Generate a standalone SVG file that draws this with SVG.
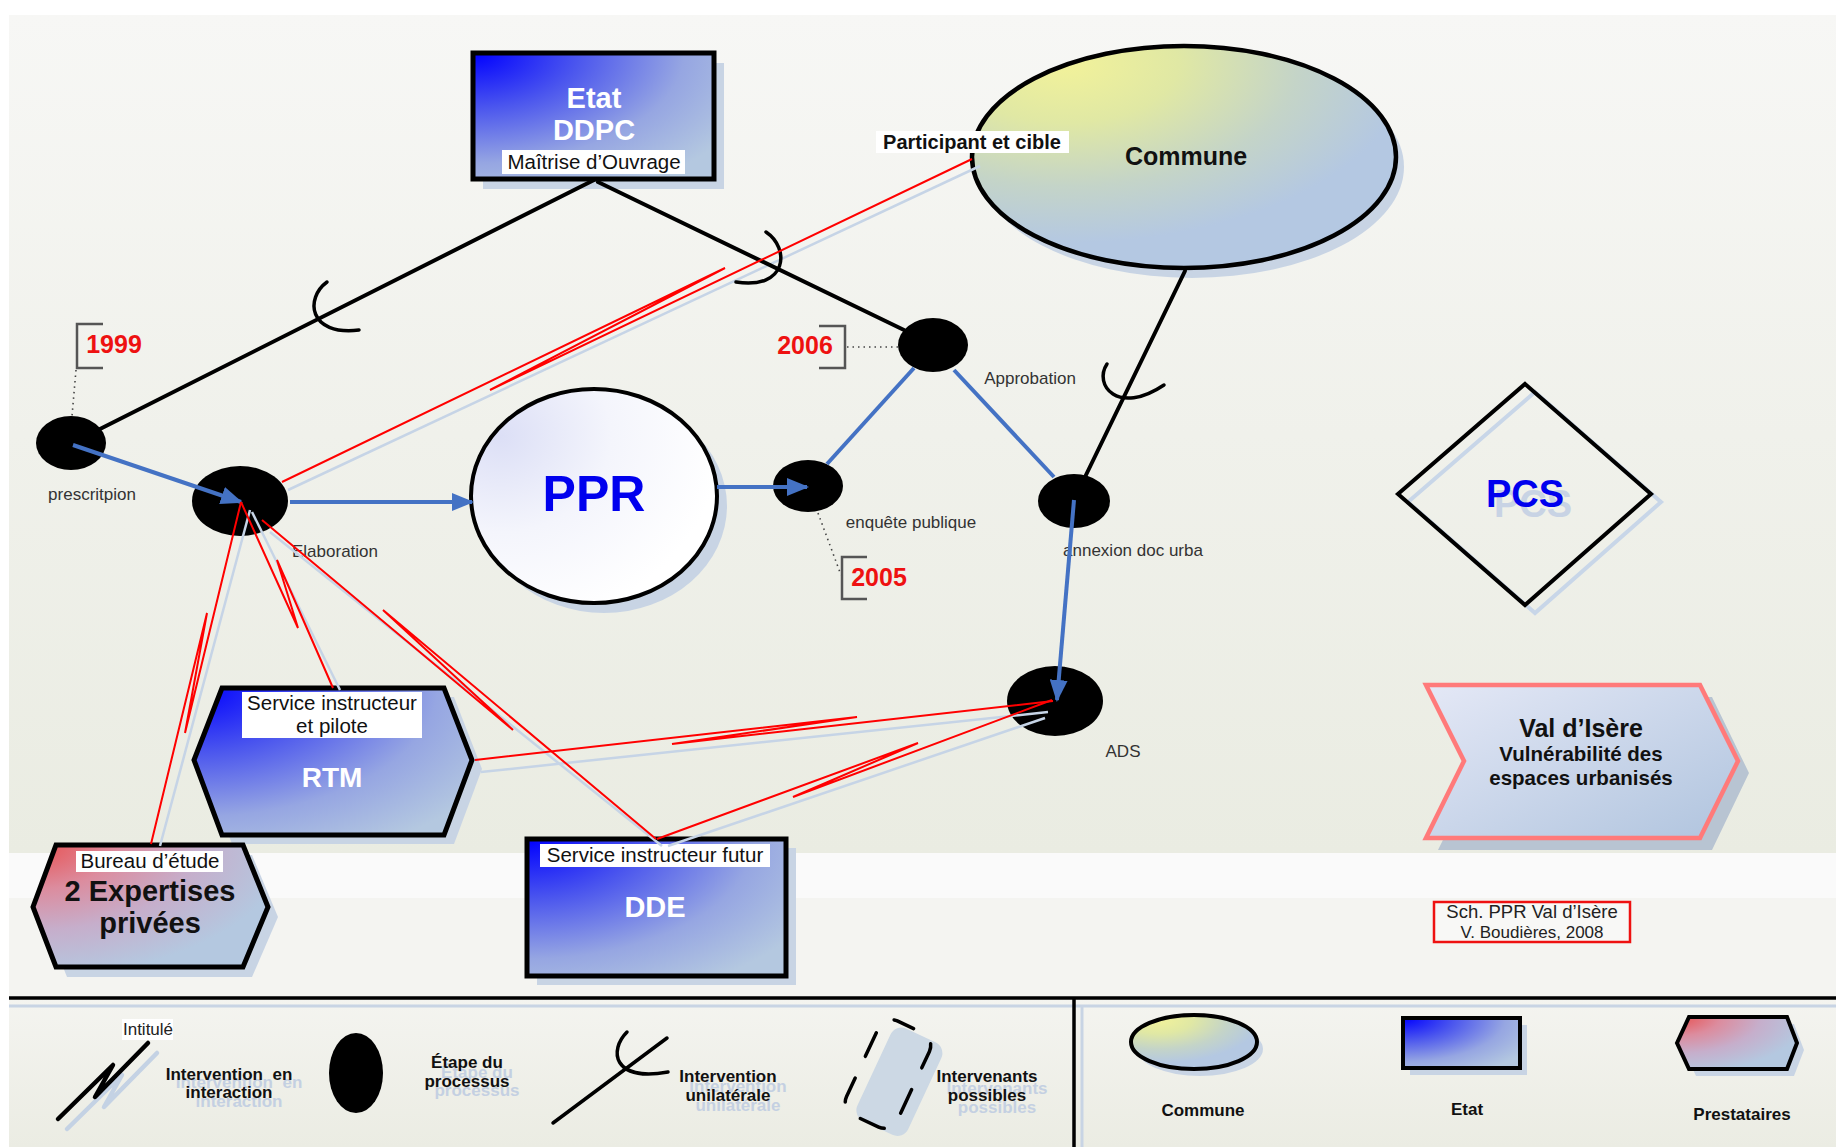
<svg xmlns="http://www.w3.org/2000/svg" width="1836" height="1147" viewBox="0 0 1836 1147">
<defs>
<style>
text{font-family:'Liberation Sans',Arial,sans-serif}
.b{font-weight:bold}
.lbl{font-size:17px;fill:#333}
.yr{font-size:25px;font-weight:bold;fill:#ee1111}
.blk{stroke:#000;stroke-width:4;fill:none;stroke-linecap:round}
.arc{stroke:#000;stroke-width:3.5;fill:none;stroke-linecap:round}
.blue{stroke:#4472c4;stroke-width:4;fill:none}
.red{stroke:#ff0000;stroke-width:2;fill:none;stroke-linejoin:miter}
.sh{stroke:#c6d4e6;stroke-width:2.5;fill:none}
.shf{fill:#c8d4e4}
.node{fill:#000}
.brk{stroke:#555;stroke-width:2.5;fill:none}
.dot{stroke:#444;stroke-width:1.6;fill:none;stroke-dasharray:1.5 4}
.wb{fill:#fff}
.out{stroke:#000;stroke-width:5;stroke-linejoin:miter}
.lg{font-size:17px;font-weight:bold;fill:#111}
.lgs{font-size:17px;font-weight:bold;fill:#c4d0e2}
</style>
<linearGradient id="gBg" x1="0" y1="0" x2="0" y2="1">
<stop offset="0" stop-color="#f7f7f5"/>
<stop offset="0.5" stop-color="#f0f1eb"/>
<stop offset="1" stop-color="#eaece2"/>
</linearGradient>
<linearGradient id="gLeg" x1="0" y1="0" x2="0" y2="1">
<stop offset="0" stop-color="#f4f4f0"/>
<stop offset="1" stop-color="#ebece3"/>
</linearGradient>
<radialGradient id="gBlue" cx="0" cy="0" r="1.25">
<stop offset="0" stop-color="#0000ff"/>
<stop offset="0.35" stop-color="#4b56ee"/>
<stop offset="0.7" stop-color="#96a6e2"/>
<stop offset="1" stop-color="#b4c8e0"/>
</radialGradient>
<radialGradient id="gCom" cx="0.22" cy="0.08" r="0.95">
<stop offset="0" stop-color="#f2f29a"/>
<stop offset="0.28" stop-color="#e0e8a4"/>
<stop offset="0.58" stop-color="#c4d4c8"/>
<stop offset="0.85" stop-color="#b4c8e2"/>
</radialGradient>
<radialGradient id="gRed" cx="0" cy="0" r="1.2">
<stop offset="0" stop-color="#e85050"/>
<stop offset="0.3" stop-color="#dc8c9e"/>
<stop offset="0.58" stop-color="#c6aecb"/>
<stop offset="0.9" stop-color="#b4c8e0"/>
</radialGradient>
<radialGradient id="gPPR" cx="0.12" cy="0.22" r="0.9">
<stop offset="0" stop-color="#dcdff6"/>
<stop offset="0.5" stop-color="#f4f5fc"/>
<stop offset="1" stop-color="#ffffff"/>
</radialGradient>
<linearGradient id="gChev" x1="0" y1="0" x2="1" y2="1">
<stop offset="0" stop-color="#e4e8f6"/>
<stop offset="1" stop-color="#b0c4de"/>
</linearGradient>
<marker id="arr" markerUnits="userSpaceOnUse" markerWidth="22" markerHeight="18" refX="20" refY="9" orient="auto">
<path d="M0,0 L22,9 L0,18 z" fill="#4472c4"/>
</marker>
</defs>

<!-- background -->
<rect x="0" y="0" width="1836" height="1147" fill="#ffffff"/>
<rect x="9" y="15" width="1827" height="838" fill="url(#gBg)"/>
<rect x="9" y="853" width="1827" height="45" fill="#fafafa"/>
<rect x="9" y="898" width="1827" height="100" fill="#f4f4f1"/>
<rect x="9" y="998" width="1827" height="149" fill="url(#gLeg)"/>

<!-- Etat DDPC -->
<g id="etat">
<rect x="483" y="63" width="241" height="126" class="shf"/>
<rect x="473" y="53" width="241" height="126" fill="url(#gBlue)" class="out"/>
<text x="594" y="108" text-anchor="middle" class="b" font-size="29" fill="#fff">Etat</text>
<text x="594" y="140" text-anchor="middle" class="b" font-size="29" fill="#fff">DDPC</text>
<rect x="502" y="150" width="183" height="24" class="wb"/>
<text x="594" y="169" text-anchor="middle" font-size="20.5" fill="#111">Maîtrise d’Ouvrage</text>
</g>

<!-- Commune -->
<g id="commune">
<ellipse cx="1192" cy="167" rx="212" ry="111" class="shf"/>
<ellipse cx="1184" cy="157" rx="212" ry="111" fill="url(#gCom)" stroke="#000" stroke-width="4.5"/>
<text x="1186" y="165" text-anchor="middle" class="b" font-size="25" fill="#111">Commune</text>
</g>

<!-- PPR -->
<g id="ppr">
<ellipse cx="604" cy="506" rx="123" ry="107" class="shf"/>
<ellipse cx="594" cy="496" rx="123" ry="107" fill="url(#gPPR)" stroke="#000" stroke-width="4"/>
<text x="594" y="511" text-anchor="middle" class="b" font-size="50" fill="#0000ee">PPR</text>
</g>

<!-- PCS -->
<g id="pcs">
<polygon points="1535,392 1661,502 1535,613 1408,502" fill="none" stroke="#c8d6e8" stroke-width="4"/>
<polygon points="1525,384 1651,494 1525,605 1398,494" fill="none" stroke="#000" stroke-width="4"/>
<text x="1533" y="517" text-anchor="middle" class="b" font-size="38" fill="#c8d3e4">PCS</text>
<text x="1525" y="507" text-anchor="middle" class="b" font-size="38" fill="#0000ee">PCS</text>
</g>

<!-- Val d'Isère -->
<g id="valdisere">
<polygon points="1438,697 1712,697 1749,773 1712,850 1438,850 1476,773" fill="#b8c4d2"/>
<polygon points="1426,685 1700,685 1738,761 1700,838 1426,838 1464,761" fill="url(#gChev)" stroke="#ff7a7a" stroke-width="4.5"/>
<text x="1581" y="737" text-anchor="middle" class="b" font-size="25" fill="#111">Val d’Isère</text>
<text x="1581" y="761" text-anchor="middle" class="b" font-size="20.5" fill="#111">Vulnérabilité des</text>
<text x="1581" y="785" text-anchor="middle" class="b" font-size="20.5" fill="#111">espaces urbanisés</text>
</g>

<!-- credit box -->
<g id="credit">
<rect x="1434" y="902" width="196" height="40" fill="#f8f8f6" stroke="#ee1111" stroke-width="2.5"/>
<text x="1532" y="918" text-anchor="middle" font-size="18.5" fill="#222">Sch. PPR Val d’Isère</text>
<text x="1532" y="938" text-anchor="middle" font-size="17" fill="#222">V. Boudières, 2008</text>
</g>

<!-- RTM -->
<g id="rtm">
<polygon points="232,697 454,697 482,769 454,844 232,844 204,769" class="shf"/>
<polygon points="222,688 444,688 472,760 444,835 222,835 194,760" fill="url(#gBlue)" class="out"/>
<rect x="242" y="692" width="180" height="46" class="wb"/>
<text x="332" y="710" text-anchor="middle" font-size="20.5" fill="#111">Service instructeur</text>
<text x="332" y="733" text-anchor="middle" font-size="20.5" fill="#111">et pilote</text>
<text x="332" y="787" text-anchor="middle" class="b" font-size="28" fill="#fff">RTM</text>
</g>

<!-- Bureau d'étude -->
<g id="bureau">
<polygon points="67,855 252,855 278,917 252,977 67,977 43,917" class="shf"/>
<polygon points="56,845 243,845 268,907 243,967 56,967 33,907" fill="url(#gRed)" class="out"/>
<rect x="76" y="851" width="147" height="21" class="wb"/>
<text x="150" y="868" text-anchor="middle" font-size="20.5" fill="#111">Bureau d’étude</text>
<text x="150" y="901" text-anchor="middle" class="b" font-size="29" fill="#111">2 Expertises</text>
<text x="150" y="933" text-anchor="middle" class="b" font-size="29" fill="#111">privées</text>
</g>

<!-- DDE -->
<g id="dde">
<rect x="537" y="848" width="259" height="137" class="shf"/>
<rect x="527" y="839" width="259" height="137" fill="url(#gBlue)" class="out"/>
<rect x="540" y="844" width="230" height="23" class="wb"/>
<text x="655" y="862" text-anchor="middle" font-size="20.5" fill="#111">Service instructeur futur</text>
<text x="655" y="917" text-anchor="middle" class="b" font-size="29" fill="#fff">DDE</text>
</g>

<!-- process nodes -->
<g id="n-prescription">
<ellipse cx="71" cy="443" rx="35" ry="27" class="node"/>
<text x="92" y="500" text-anchor="middle" class="lbl">prescritpion</text>
</g>
<g id="n-elaboration">
<ellipse cx="240" cy="501" rx="48" ry="35" class="node"/>
<text x="335" y="557" text-anchor="middle" class="lbl">Elaboration</text>
</g>
<g id="n-enquete">
<ellipse cx="808" cy="486" rx="35" ry="26" class="node"/>
<text x="911" y="528" text-anchor="middle" class="lbl">enquête publique</text>
</g>
<g id="n-approbation">
<ellipse cx="933" cy="345" rx="35" ry="27" class="node"/>
<text x="1030" y="384" text-anchor="middle" class="lbl">Approbation</text>
</g>
<g id="n-annexion">
<ellipse cx="1074" cy="501" rx="36" ry="27" class="node"/>
<text x="1133" y="556" text-anchor="middle" class="lbl">annexion doc urba</text>
</g>
<g id="n-ads">
<ellipse cx="1055" cy="701" rx="48" ry="35" class="node"/>
<text x="1123" y="757" text-anchor="middle" class="lbl">ADS</text>
</g>

<!-- year labels -->
<g id="y1999">
<path d="M103,324 L77,324 L77,368 L103,368" class="brk"/>
<line x1="76" y1="370" x2="72" y2="416" class="dot"/>
<text x="114" y="353" text-anchor="middle" class="yr">1999</text>
</g>
<g id="y2006">
<path d="M819,326 L845,326 L845,368 L819,368" class="brk"/>
<line x1="847" y1="347" x2="898" y2="347" class="dot"/>
<text x="805" y="354" text-anchor="middle" class="yr">2006</text>
</g>
<g id="y2005">
<path d="M867,557 L842,557 L842,599 L867,599" class="brk"/>
<line x1="818" y1="513" x2="841" y2="575" class="dot"/>
<text x="879" y="586" text-anchor="middle" class="yr">2005</text>
</g>

<!-- connectors -->
<g id="connectors">
<line x1="288" y1="490" x2="980" y2="166" class="sh"/>
<line x1="250" y1="510" x2="160" y2="846" class="sh"/>
<line x1="252" y1="512" x2="340" y2="690" class="sh"/>
<line x1="270" y1="532" x2="662" y2="846" class="sh"/>
<line x1="481" y1="772" x2="1048" y2="712" class="sh"/>
<line x1="668" y1="846" x2="1045" y2="718" class="sh"/>

<line x1="594" y1="180" x2="100" y2="429" class="blk"/>
<path d="M327,282 C305,298 308,336 359,330" class="arc"/>
<line x1="598" y1="182" x2="904" y2="330" class="blk"/>
<path d="M766,232 C790,248 788,290 736,282" class="arc"/>
<line x1="1185" y1="271" x2="1085" y2="477" class="blk"/>
<path d="M1107,364 C1093,385 1118,416 1164,385" class="arc"/>

<line x1="73" y1="445" x2="241" y2="502" class="blue" marker-end="url(#arr)"/>
<line x1="290" y1="502" x2="472" y2="502" class="blue" marker-end="url(#arr)"/>
<line x1="717" y1="487" x2="807" y2="487" class="blue" marker-end="url(#arr)"/>
<line x1="827" y1="464" x2="914" y2="368" class="blue"/>
<line x1="954" y1="370" x2="1054" y2="477" class="blue"/>
<line x1="1074" y1="500" x2="1057" y2="700" class="blue" marker-end="url(#arr)"/>

<path d="M282,482 L725,268 L490,390 L972,159" class="red"/>
<path d="M241,502 L185,733 L207,613 L151,844" class="red"/>
<path d="M241,502 L298,628 L277,560 L333,688" class="red"/>
<path d="M262,520 L513,730 L383,610 L656,839" class="red"/>
<path d="M475,760 L857,717 L672,744 L1053,701" class="red"/>
<path d="M657,839 L918,743 L793,797 L1052,700" class="red"/>

<rect x="876" y="131" width="193" height="22" class="wb"/>
<text x="972" y="149" text-anchor="middle" class="b" font-size="20" fill="#111">Participant et cible</text>
</g>

<!-- legend -->
<g id="legend">
<line x1="9" y1="1006" x2="1836" y2="1006" stroke="#c8d4e4" stroke-width="3"/>
<line x1="1082" y1="1006" x2="1082" y2="1147" stroke="#c8d4e4" stroke-width="3"/>
<line x1="9" y1="998" x2="1836" y2="998" stroke="#000" stroke-width="3.5"/>
<line x1="1074" y1="998" x2="1074" y2="1147" stroke="#000" stroke-width="3.5"/>

<g id="leg-interaction">
<path d="M67,1129 L122,1075 L104,1107 L157,1053" fill="none" stroke="#c4d2e4" stroke-width="4.5" stroke-linecap="round" stroke-linejoin="round"/>
<path d="M58,1119 L113,1065 L95,1097 L148,1043" fill="none" stroke="#000" stroke-width="4.5" stroke-linecap="round" stroke-linejoin="round"/>
<rect x="122" y="1019" width="51" height="21" class="wb"/>
<text x="148" y="1035" text-anchor="middle" font-size="17" fill="#222">Intitulé</text>
<text x="239" y="1088" text-anchor="middle" class="lgs">Intervention&#160; en</text>
<text x="239" y="1107" text-anchor="middle" class="lgs">interaction</text>
<text x="229" y="1080" text-anchor="middle" class="lg">Intervention&#160; en</text>
<text x="229" y="1098" text-anchor="middle" class="lg">interaction</text>
</g>
<g id="leg-etape">
<ellipse cx="356" cy="1073" rx="27" ry="40" fill="#000"/>
<text x="477" y="1078" text-anchor="middle" class="lgs">Étape du</text>
<text x="477" y="1096" text-anchor="middle" class="lgs">processus</text>
<text x="467" y="1068" text-anchor="middle" class="lg">Étape du</text>
<text x="467" y="1087" text-anchor="middle" class="lg">processus</text>
</g>
<g id="leg-unilaterale">
<line x1="553" y1="1123" x2="667" y2="1038" stroke="#000" stroke-width="3.5" stroke-linecap="round"/>
<path d="M627,1032 C609,1050 612,1082 668,1072" fill="none" stroke="#000" stroke-width="3.5" stroke-linecap="round"/>
<text x="738" y="1092" text-anchor="middle" class="lgs">Intervention</text>
<text x="738" y="1111" text-anchor="middle" class="lgs">unilatérale</text>
<text x="728" y="1082" text-anchor="middle" class="lg">Intervention</text>
<text x="728" y="1101" text-anchor="middle" class="lg">unilatérale</text>
</g>
<g id="leg-possibles">
<rect x="-26" y="-50" width="56" height="102" rx="12" fill="#ccd8e4" transform="translate(898,1080) rotate(25)"/>
<rect x="-28" y="-52" width="56" height="104" rx="14" fill="none" stroke="#000" stroke-width="3.5" stroke-dasharray="26 24" stroke-dashoffset="8" stroke-linecap="round" transform="translate(888,1074) rotate(25)"/>
<text x="997" y="1094" text-anchor="middle" class="lgs">Intervenants</text>
<text x="997" y="1113" text-anchor="middle" class="lgs">possibles</text>
<text x="987" y="1082" text-anchor="middle" class="lg">Intervenants</text>
<text x="987" y="1101" text-anchor="middle" class="lg">possibles</text>
</g>
<g id="leg-commune">
<ellipse cx="1200" cy="1049" rx="63" ry="27" class="shf"/>
<ellipse cx="1194" cy="1042" rx="63" ry="27" fill="url(#gCom)" stroke="#000" stroke-width="4"/>
<text x="1203" y="1116" text-anchor="middle" class="lg">Commune</text>
</g>
<g id="leg-etat">
<rect x="1410" y="1025" width="117" height="50" class="shf"/>
<rect x="1403" y="1018" width="117" height="50" fill="url(#gBlue)" stroke="#000" stroke-width="4"/>
<text x="1467" y="1115" text-anchor="middle" class="lg">Etat</text>
</g>
<g id="leg-prestataires">
<polygon points="1684,1050 1696,1024 1794,1024 1804,1050 1794,1076 1696,1076" class="shf"/>
<polygon points="1677,1043 1689,1017 1787,1017 1797,1043 1787,1069 1689,1069" fill="url(#gRed)" stroke="#000" stroke-width="4"/>
<text x="1742" y="1120" text-anchor="middle" class="lg">Prestataires</text>
</g>
</g>
</svg>
